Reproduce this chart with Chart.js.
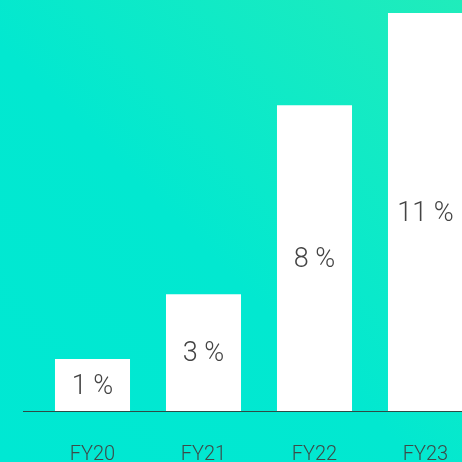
<!DOCTYPE html>
<html>
<head>
<meta charset="utf-8">
<script src="https://cdn.jsdelivr.net/npm/chart.js@4"></script>
<style>
  html, body { margin: 0; padding: 0; width: 462px; height: 462px; overflow: hidden; }
  body { background: linear-gradient(to top right, #00e8d3 0%, #02e8d0 45%, #20ecbb 100%); }
  #wrap { position: absolute; left: 0; top: 0; width: 481px; height: 499px; }
</style>
</head>
<body>
<div id="wrap"><canvas id="chart"></canvas></div>
<script>
// data
var categories = ['FY20', 'FY21', 'FY22', 'FY23'];
var values = [1.44, 3.23, 8.45, 11];
var valueLabels = ['1 %', '3 %', '8 %', '11 %'];

// labels inside bars + baseline
var barLabels = {
  id: 'barLabels',
  afterDatasetsDraw: function (chart) {
    var ctx = chart.ctx;
    var meta = chart.getDatasetMeta(0);
    var yScale = chart.scales.y;
    var base = Math.round(yScale.getPixelForValue(0)) + 0.5;

    ctx.save();
    ctx.strokeStyle = '#2f4a45';
    ctx.lineWidth = 1;
    ctx.beginPath();
    ctx.moveTo(chart.chartArea.left - 14, base);
    ctx.lineTo(chart.width, base);
    ctx.stroke();

    ctx.fillStyle = '#444444';
    ctx.font = '300 27px Roboto';
    ctx.textAlign = 'center';
    ctx.textBaseline = 'middle';
    meta.data.forEach(function (bar, i) {
      var mid = (bar.y + bar.base) / 2 + 2;
      ctx.fillText(valueLabels[i], bar.x, mid);
    });
    ctx.restore();
  }
};

var ctx = document.getElementById('chart').getContext('2d');
var chart = new Chart(ctx, {
  type: 'bar',
  data: {
    labels: categories,
    datasets: [{
      data: values,
      backgroundColor: '#ffffff',
      borderWidth: 0,
      categoryPercentage: 1,
      barPercentage: 0.676
    }]
  },
  options: {
    responsive: true,
    maintainAspectRatio: false,
    animation: false,
    layout: { padding: { left: 37, right: 0, top: 13, bottom: 0 } },
    plugins: {
      legend: { display: false },
      tooltip: { enabled: false }
    },
    scales: {
      x: {
        grid: { display: false, drawTicks: false },
        border: { display: false },
        ticks: {
          color: '#3d4a48',
          padding: 32,
          font: { family: 'Roboto', size: 20, weight: 300 }
        }
      },
      y: {
        display: false,
        min: 0,
        max: 11
      }
    }
  },
  plugins: [barLabels]
});
</script>
</body>
</html>
